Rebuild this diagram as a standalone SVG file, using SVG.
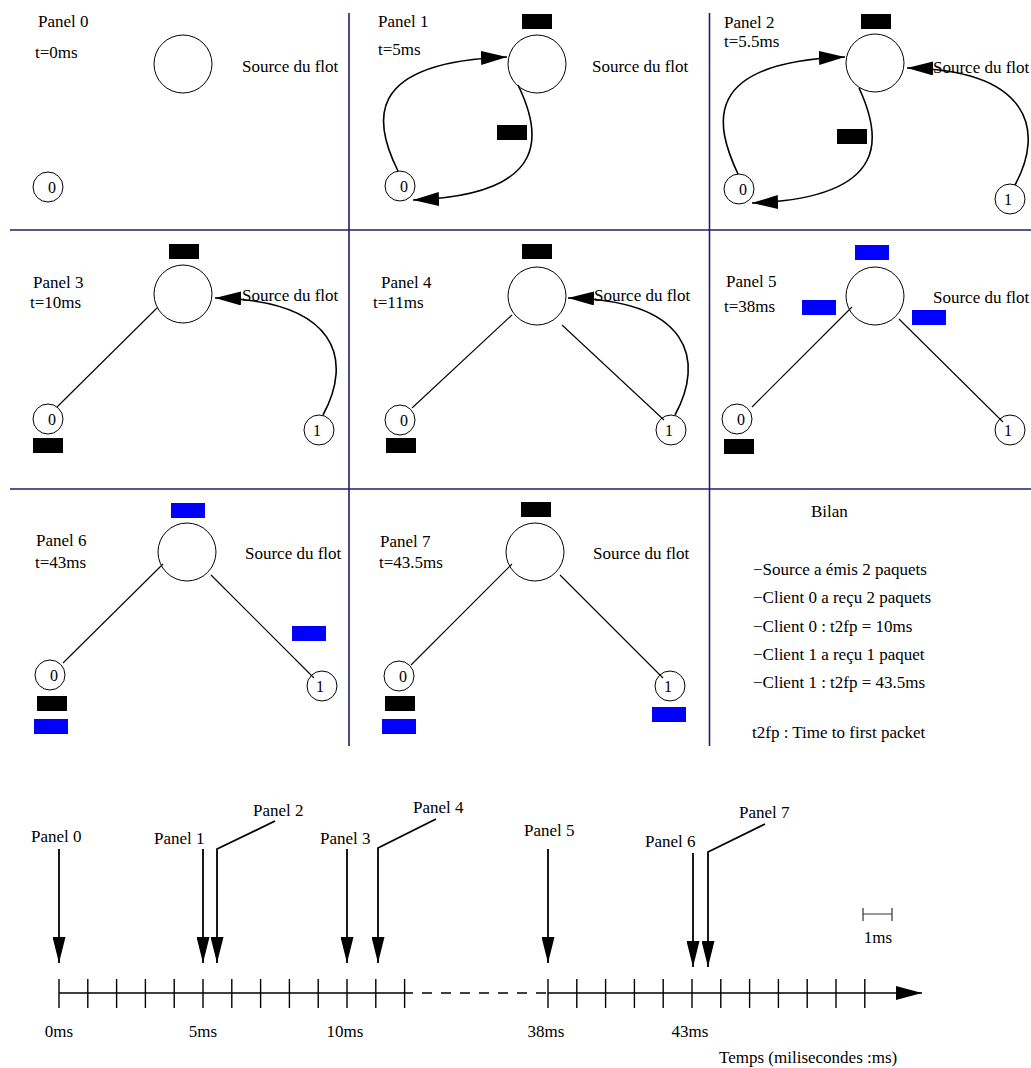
<svg xmlns="http://www.w3.org/2000/svg" width="1031" height="1068" viewBox="0 0 1031 1068">
  <style>
    .lbl { font-family: "Liberation Serif", "Times New Roman", serif; font-size: 17px; fill: #000; }
    .num { font-family: "Liberation Serif", "Times New Roman", serif; font-size: 16px; fill: #000; text-anchor: middle; }
    .mid { text-anchor: middle; }
    .node { fill: #fff; stroke: #000; stroke-width: 1; }
    .link { fill: none; stroke: #000; stroke-width: 1.1; }
    .flow { fill: none; stroke: #000; stroke-width: 1.6; marker-end: url(#head); }
    .pkt { fill: #000; }
    .pkt-b { fill: #0000ff; }
    .grid { fill: none; stroke: #1e1e6e; stroke-width: 1.6; }
    .axis { fill: none; stroke: #000; stroke-width: 1.6; }
    .tick { fill: none; stroke: #000; stroke-width: 1.4; }
    .ptr { fill: none; stroke: #000; stroke-width: 1.8; marker-end: url(#tip); }
    .scale { fill: none; stroke: #333; stroke-width: 1.2; }
  </style>
  <defs>
    <marker id="head" markerUnits="userSpaceOnUse" viewBox="0 0 26 14" markerWidth="26" markerHeight="14" refX="26" refY="7" orient="auto">
      <path d="M0,0 L26,7 L0,14 z" fill="#000"/>
    </marker>
    <marker id="tip" markerUnits="userSpaceOnUse" viewBox="0 0 26 13" markerWidth="26" markerHeight="13" refX="26" refY="6.5" orient="auto">
      <path d="M0,0 L26,6.5 L0,13 z" fill="#000"/>
    </marker>
  </defs>

  <rect width="1031" height="1068" fill="#fff"/>

  <!-- panel grid -->
  <g id="grid" class="grid">
    <line x1="10" y1="230" x2="1031" y2="230"/>
    <line x1="10" y1="489" x2="1031" y2="489"/>
    <line x1="349" y1="13" x2="349" y2="746"/>
    <line x1="709.5" y1="13" x2="709.5" y2="746"/>
  </g>

  <!-- Panel 0 -->
  <g id="panel-0">
    <text class="lbl" x="38" y="27">Panel 0</text>
    <text class="lbl" x="35" y="58">t=0ms</text>
    <text class="lbl" x="242" y="72">Source du flot</text>
    <g id="p0-source"><circle class="node" cx="183" cy="64" r="29"/></g>
    <g id="p0-client0"><circle class="node" cx="48" cy="187" r="15"/><text class="num" x="52" y="193">0</text></g>
  </g>

  <!-- Panel 1 -->
  <g id="panel-1">
    <text class="lbl" x="378" y="27">Panel 1</text>
    <text class="lbl" x="378" y="55">t=5ms</text>
    <text class="lbl" x="592" y="72">Source du flot</text>
    <g id="p1-source"><circle class="node" cx="537" cy="64" r="29"/></g>
    <g id="p1-client0"><circle class="node" cx="400" cy="186" r="15"/><text class="num" x="404" y="192">0</text></g>
    <g id="p1-links">
      <path class="flow" d="M398,171 C375,125 360,62 507,57"/>
      <path class="flow" d="M518,85 C540,130 555,195 413,200"/>
    </g>
    <rect class="pkt" x="522" y="14" width="30" height="15"/>
    <rect class="pkt" x="497" y="125" width="30" height="15"/>
  </g>

  <!-- Panel 2 -->
  <g id="panel-2">
    <text class="lbl" x="724" y="28">Panel 2</text>
    <text class="lbl" x="724" y="47">t=5.5ms</text>
    <g id="p2-source"><circle class="node" cx="875" cy="63" r="29"/></g>
    <g id="p2-client0"><circle class="node" cx="739" cy="189" r="15"/><text class="num" x="743" y="195">0</text></g>
    <g id="p2-client1"><circle class="node" cx="1010" cy="199" r="15"/><text class="num" x="1008" y="205">1</text></g>
    <g id="p2-links">
      <path class="flow" d="M738,174 C715,125 700,62 845,57"/>
      <path class="flow" d="M859,88 C880,133 895,198 752,203"/>
      <path class="flow" d="M1015,185 C1045,130 1030,70 907,68"/>
    </g>
    <text class="lbl" x="933" y="73">Source du flot</text>
    <rect class="pkt" x="861" y="14" width="30" height="15"/>
    <rect class="pkt" x="837" y="129" width="30" height="15"/>
  </g>

  <!-- Panel 3 -->
  <g id="panel-3">
    <text class="lbl" x="33" y="288">Panel 3</text>
    <text class="lbl" x="30" y="308">t=10ms</text>
    <g id="p3-source"><circle class="node" cx="183" cy="294" r="29"/></g>
    <g id="p3-client0"><circle class="node" cx="48" cy="419" r="15"/><text class="num" x="52" y="425">0</text></g>
    <g id="p3-client1"><circle class="node" cx="319" cy="430" r="15"/><text class="num" x="317" y="436">1</text></g>
    <g id="p3-links">
      <line class="link" x1="57" y1="407" x2="157" y2="308"/>
      <path class="flow" d="M323,415 C353,360 338,300 215,298"/>
    </g>
    <text class="lbl" x="242" y="301">Source du flot</text>
    <rect class="pkt" x="169" y="244" width="30" height="15"/>
    <rect class="pkt" x="33" y="438" width="30" height="15"/>
  </g>

  <!-- Panel 4 -->
  <g id="panel-4">
    <text class="lbl" x="381" y="288">Panel 4</text>
    <text class="lbl" x="373" y="308">t=11ms</text>
    <g id="p4-source"><circle class="node" cx="537" cy="296" r="29"/></g>
    <g id="p4-client0"><circle class="node" cx="400" cy="420" r="15"/><text class="num" x="404" y="426">0</text></g>
    <g id="p4-client1"><circle class="node" cx="671" cy="430" r="15"/><text class="num" x="669" y="436">1</text></g>
    <g id="p4-links">
      <line class="link" x1="412" y1="408" x2="512" y2="315"/>
      <line class="link" x1="562" y1="325" x2="664" y2="420"/>
      <path class="flow" d="M675,415 C705,360 690,300 568,298"/>
    </g>
    <text class="lbl" x="594" y="301">Source du flot</text>
    <rect class="pkt" x="522" y="244" width="30" height="15"/>
    <rect class="pkt" x="386" y="438" width="30" height="15"/>
  </g>

  <!-- Panel 5 -->
  <g id="panel-5">
    <text class="lbl" x="726" y="287">Panel 5</text>
    <text class="lbl" x="724" y="312">t=38ms</text>
    <text class="lbl" x="933" y="303">Source du flot</text>
    <g id="p5-source"><circle class="node" cx="875" cy="296" r="29"/></g>
    <g id="p5-client0"><circle class="node" cx="737" cy="419" r="15"/><text class="num" x="741" y="425">0</text></g>
    <g id="p5-client1"><circle class="node" cx="1010" cy="430" r="15"/><text class="num" x="1008" y="436">1</text></g>
    <g id="p5-links">
      <line class="link" x1="752" y1="407" x2="852" y2="307"/>
      <line class="link" x1="899" y1="319" x2="1003" y2="422"/>
    </g>
    <rect class="pkt-b" x="855" y="245" width="34" height="15"/>
    <rect class="pkt-b" x="802" y="300" width="34" height="15"/>
    <rect class="pkt-b" x="912" y="310" width="34" height="15"/>
    <rect class="pkt" x="724" y="439" width="30" height="15"/>
  </g>

  <!-- Panel 6 -->
  <g id="panel-6">
    <text class="lbl" x="36" y="546">Panel 6</text>
    <text class="lbl" x="35" y="568">t=43ms</text>
    <text class="lbl" x="245" y="559">Source du flot</text>
    <g id="p6-source"><circle class="node" cx="187" cy="552" r="29"/></g>
    <g id="p6-client0"><circle class="node" cx="50" cy="675" r="15"/><text class="num" x="54" y="681">0</text></g>
    <g id="p6-client1"><circle class="node" cx="322" cy="686" r="15"/><text class="num" x="320" y="692">1</text></g>
    <g id="p6-links">
      <line class="link" x1="63" y1="663" x2="163" y2="564"/>
      <line class="link" x1="211" y1="575" x2="314" y2="678"/>
    </g>
    <rect class="pkt-b" x="171" y="503" width="34" height="15"/>
    <rect class="pkt-b" x="292" y="626" width="34" height="15"/>
    <rect class="pkt" x="37" y="696" width="30" height="15"/>
    <rect class="pkt-b" x="34" y="719" width="34" height="15"/>
  </g>

  <!-- Panel 7 -->
  <g id="panel-7">
    <text class="lbl" x="380" y="547">Panel 7</text>
    <text class="lbl" x="379" y="568">t=43.5ms</text>
    <text class="lbl" x="593" y="559">Source du flot</text>
    <g id="p7-source"><circle class="node" cx="535" cy="552" r="29"/></g>
    <g id="p7-client0"><circle class="node" cx="399" cy="676" r="15"/><text class="num" x="403" y="682">0</text></g>
    <g id="p7-client1"><circle class="node" cx="670" cy="686" r="15"/><text class="num" x="668" y="692">1</text></g>
    <g id="p7-links">
      <line class="link" x1="411" y1="665" x2="512" y2="564"/>
      <line class="link" x1="560" y1="575" x2="663" y2="678"/>
    </g>
    <rect class="pkt" x="521" y="502" width="30" height="15"/>
    <rect class="pkt" x="385" y="696" width="30" height="15"/>
    <rect class="pkt-b" x="382" y="719" width="34" height="15"/>
    <rect class="pkt-b" x="652" y="707" width="34" height="15"/>
  </g>

  <!-- Summary -->
  <g id="summary">
    <text class="lbl" x="811" y="517">Bilan</text>
    <text class="lbl" x="753" y="575">−Source a émis 2 paquets</text>
    <text class="lbl" x="753" y="603">−Client 0 a reçu 2 paquets</text>
    <text class="lbl" x="753" y="632">−Client 0 : t2fp = 10ms</text>
    <text class="lbl" x="753" y="660">−Client 1 a reçu 1 paquet</text>
    <text class="lbl" x="753" y="688">−Client 1 : t2fp = 43.5ms</text>
    <text class="lbl" x="752" y="738">t2fp : Time to first packet</text>
  </g>

  <!-- Time axis -->
  <g id="timeline">
    <line class="axis" x1="59" y1="993" x2="413" y2="993"/>
    <line class="axis" x1="413" y1="993" x2="548" y2="993" stroke-dasharray="10 9" stroke-dashoffset="-9"/>
    <line class="axis" x1="548" y1="993" x2="922" y2="993" marker-end="url(#head)"/>
    <g class="tick">
      <path d="M59,979V1008 M87.8,979V1008 M116.6,979V1008 M145.4,979V1008 M174.2,979V1008 M203,979V1008 M231.8,979V1008 M260.6,979V1008 M289.4,979V1008 M318.2,979V1008 M347,979V1008 M375.8,979V1008 M404.6,979V1008"/>
      <path d="M548,979V1008 M576.8,979V1008 M605.6,979V1008 M634.4,979V1008 M663.2,979V1008 M692,979V1008 M720.8,979V1008 M749.6,979V1008 M778.4,979V1008 M807.2,979V1008 M836,979V1008 M864.8,979V1008"/>
    </g>
    <text class="lbl mid" x="59" y="1037">0ms</text>
    <text class="lbl mid" x="203" y="1037">5ms</text>
    <text class="lbl mid" x="345" y="1037">10ms</text>
    <text class="lbl mid" x="546" y="1037">38ms</text>
    <text class="lbl mid" x="690" y="1037">43ms</text>
    <text class="lbl" x="719" y="1063">Temps (milisecondes :ms)</text>

    <!-- scale bar -->
    <path class="scale" d="M863,914H892 M863,908V921 M892,908V921"/>
    <text class="lbl mid" x="878" y="943">1ms</text>
  </g>

  <!-- Panel markers on the time axis -->
  <g id="markers">
    <text class="lbl" x="31" y="842">Panel 0</text>
    <text class="lbl" x="154" y="844">Panel 1</text>
    <text class="lbl" x="253" y="816">Panel 2</text>
    <text class="lbl" x="320" y="844">Panel 3</text>
    <text class="lbl" x="413" y="813">Panel 4</text>
    <text class="lbl" x="524" y="836">Panel 5</text>
    <text class="lbl" x="645" y="847">Panel 6</text>
    <text class="lbl" x="739" y="818">Panel 7</text>
    <path class="ptr" d="M59,849V963"/>
    <path class="ptr" d="M203,849V963"/>
    <path class="ptr" d="M275,821L217,849V963"/>
    <path class="ptr" d="M347,849V963"/>
    <path class="ptr" d="M436,819L378,848V963"/>
    <path class="ptr" d="M548,849V963"/>
    <path class="ptr" d="M693,853V967"/>
    <path class="ptr" d="M765,824L708,852V967"/>
  </g>
</svg>
